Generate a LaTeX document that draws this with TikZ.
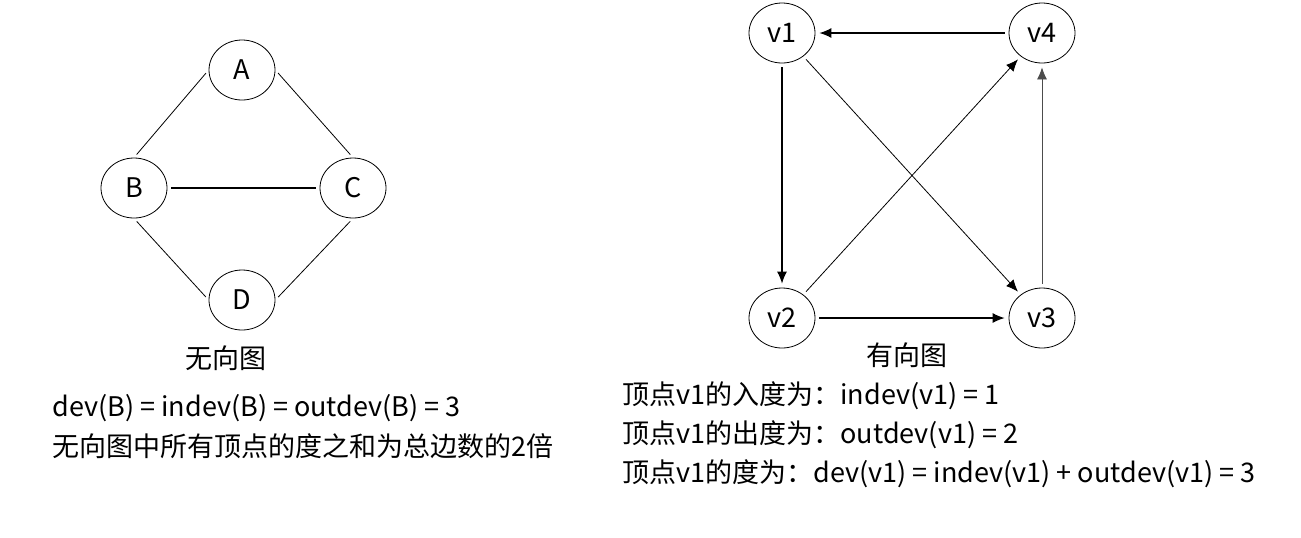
\documentclass[tikz,border=0pt]{standalone}
\usepackage{fontspec}
\setmainfont{Noto Sans CJK SC}
\usetikzlibrary{arrows.meta,shapes.geometric}
\begin{document}
\begin{tikzpicture}[x=0.5pt,y=-0.5pt,font=\fontsize{13.5}{16}\selectfont,
	vertex/.style={draw,ellipse,minimum width=33pt,minimum height=30pt,inner sep=0pt},
	note/.style={anchor=west,inner sep=0pt},
	edge/.style={shorten >=2pt,shorten <=2pt},
	arc/.style={edge,-{Latex[length=6pt,width=5pt]}}]
	\useasboundingbox (0,0) rectangle (1301,537);
	% undirected graph
	\node[vertex] (A) at (242,70) {A};
	\node[vertex] (B) at (134,188) {B};
	\node[vertex] (C) at (353,188) {C};
	\node[vertex] (D) at (242,300) {D};
	\draw[edge,thin] (A.west) -- (B.north);
	\draw[edge,thin] (A.east) -- (C.north);
	\draw[edge,thin] (B.south) -- (D.west);
	\draw[edge,thin] (C.south) -- (D.east);
	\draw[edge,semithick] (B) -- (C);
	\node (ltitle) at (226,358) {无向图};
	\node[note] (ltext1) at (52,408) {dev(B) = indev(B) = outdev(B) = 3};
	\node[note] (ltext2) at (52,446) {无向图中所有顶点的度之和为总边数的2倍};
	% directed graph
	\node[vertex] (v1) at (782,33) {v1};
	\node[vertex] (v4) at (1042,33) {v4};
	\node[vertex] (v2) at (782,318) {v2};
	\node[vertex] (v3) at (1042,318) {v3};
	\draw[arc,semithick] (v4) -- (v1);
	\draw[arc,semithick] (v1) -- (v2);
	\draw[arc,semithick] (v2) -- (v3);
	\draw[arc,thin] (v1) -- (v3);
	\draw[arc,thin] (v2) -- (v4);
	\draw[arc,thin,black!70] (v3) -- (v4);
	\node (rtitle) at (907,355) {有向图};
	\node[note] (rtext1) at (622,396) {顶点v1的入度为：indev(v1) = 1};
	\node[note] (rtext2) at (622,435) {顶点v1的出度为：outdev(v1) = 2};
	\node[note] (rtext3) at (622,474) {顶点v1的度为：dev(v1) = indev(v1) + outdev(v1) = 3};
\end{tikzpicture}
\end{document}
